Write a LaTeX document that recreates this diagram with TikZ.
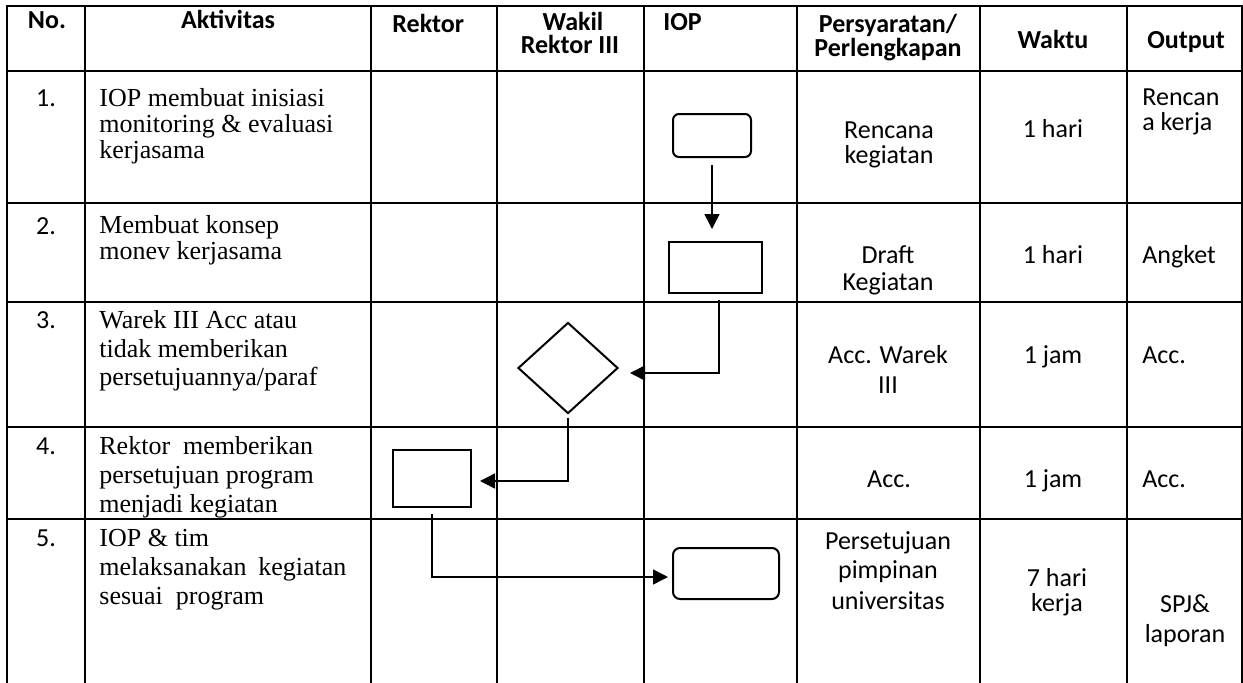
\documentclass[tikz,border=0pt]{standalone}
\usepackage{fontspec}
\setmainfont{Liberation Serif}
\newfontfamily\calib{Carlito}
\usetikzlibrary{arrows.meta,shapes.geometric}
\begin{document}
\begin{tikzpicture}[x=0.5pt,y=-0.5pt,
  grid/.style={line width=1pt,line cap=rect},
  hd/.style={font=\calib\bfseries\fontsize{13}{15}\selectfont,anchor=base,inner sep=0},
  cb/.style={font=\calib\fontsize{13}{15}\selectfont,anchor=base,inner sep=0},
  cl/.style={cb,anchor=base west},
  tm/.style={font=\fontsize{13}{15}\selectfont,anchor=base west,inner sep=0},
  shp/.style={draw,line width=1pt,inner sep=0},
  conn/.style={line width=0.75pt,-{Triangle[length=7.5pt,width=7.5pt]}}]
\useasboundingbox (0,0) rectangle (1243,682);
\fill[white] (0,0) rectangle (1243,682);
% grid
\foreach \y in {6,71,203,302,427,519} \draw[grid] (7,\y) -- (1242,\y);
\foreach \x in {7,85,371,497,644,797,980,1127,1242} \draw[grid] (\x,6) -- (\x,682);
% header
\node[hd] (hNo) at (47,28) {No.};
\node[hd] (hAkt) at (228,28) {Aktivitas};
\node[hd,anchor=base west] (hRek) at (392,32) {Rektor};
\node[hd] (hWak1) at (573,30) {Wakil};
\node[hd] (hWak2) at (570,53) {Rektor III};
\node[hd,anchor=base west] (hIOP) at (663,30) {IOP};
\node[hd] (hPer1) at (888,32) {Persyaratan/};
\node[hd] (hPer2) at (888,56) {Perlengkapan};
\node[hd] (hWkt) at (1053,48) {Waktu};
\node[hd] (hOut) at (1186,48) {Output};
% row 1
\node[cb] (n1) at (46,106) {1.};
\node[tm] (a1a) at (99,106) {IOP membuat inisiasi};
\node[tm] (a1b) at (99,132) {monitoring \& evaluasi};
\node[tm] (a1c) at (99,158) {kerjasama};
\node[cb] (p1a) at (889,138) {Rencana};
\node[cb] (p1b) at (889,163) {kegiatan};
\node[cb] (w1) at (1053,137) {1 hari};
\node[cl] (o1a) at (1142,105) {Rencan};
\node[cl] (o1b) at (1142,130) {a kerja};
% row 2
\node[cb] (n2) at (46,234) {2.};
\node[tm] (a2a) at (99,233) {Membuat konsep};
\node[tm] (a2b) at (99,259) {monev kerjasama};
\node[cb] (p2a) at (888,263) {Draft};
\node[cb] (p2b) at (888,290) {Kegiatan};
\node[cb] (w2) at (1053,263) {1 hari};
\node[cl] (o2) at (1142,263) {Angket};
% row 3
\node[cb] (n3) at (46,328) {3.};
\node[tm] (a3a) at (99,328) {Warek III Acc atau};
\node[tm] (a3b) at (99,357) {tidak memberikan};
\node[tm] (a3c) at (99,385) {persetujuannya/paraf};
\node[cb] (p3a) at (888,363) {Acc. Warek};
\node[cb] (p3b) at (888,393) {III};
\node[cb] (w3) at (1053,363) {1 jam};
\node[cl] (o3) at (1142,363) {Acc.};
% row 4
\node[cb] (n4) at (46,454) {4.};
\node[tm] (a4a) at (99,454) {Rektor\hspace{0.5em}memberikan};
\node[tm] (a4b) at (99,483) {persetujuan program};
\node[tm] (a4c) at (99,512) {menjadi kegiatan};
\node[cb] (p4) at (889,487) {Acc.};
\node[cb] (w4) at (1053,487) {1 jam};
\node[cl] (o4) at (1142,487) {Acc.};
% row 5
\node[cb] (n5) at (46,546) {5.};
\node[tm] (a5a) at (99,546) {IOP \& tim};
\node[tm] (a5b) at (99,575) {melaksanakan\hspace{0.45em}kegiatan};
\node[tm] (a5c) at (99,604) {sesuai\hspace{0.5em}program};
\node[cb] (p5a) at (888,549) {Persetujuan};
\node[cb] (p5b) at (888,578) {pimpinan};
\node[cb] (p5c) at (888,609) {universitas};
\node[cb] (w5a) at (1057,586) {7 hari};
\node[cb] (w5b) at (1057,611) {kerja};
\node[cb] (o5a) at (1185,612) {SPJ\&};
\node[cb] (o5b) at (1185,642) {laporan};
% shapes
\node[shp,rounded corners=3pt,minimum width=39pt,minimum height=21.5pt] (start1) at (712,135.5) {};
\node[shp,minimum width=46.5pt,minimum height=25.5pt] (proc2) at (715.5,267.5) {};
\node[shp,diamond,minimum width=50pt,minimum height=45.5pt] (dec3) at (568,368) {};
\node[shp,minimum width=39pt,minimum height=28.5pt] (proc4) at (432,478.5) {};
\node[shp,rounded corners=3.5pt,minimum width=53pt,minimum height=25.5pt] (end5) at (726,573.5) {};
% connectors
\draw[conn,shorten <=3.5pt,shorten >=6pt] (start1.south) -- (start1.south |- proc2.north);
\draw[conn,shorten <=3pt,shorten >=5.5pt] ([xshift=1.75pt]proc2.south) |- ([yshift=-2.5pt]dec3.east);
\draw[conn,shorten <=1.5pt,shorten >=4pt] (dec3.south) |- ([yshift=-1.25pt]proc4.east);
\draw[conn,shorten <=3pt,shorten >=2pt] (proc4.south) |- ([yshift=-1.75pt]end5.west);
\end{tikzpicture}
\end{document}
